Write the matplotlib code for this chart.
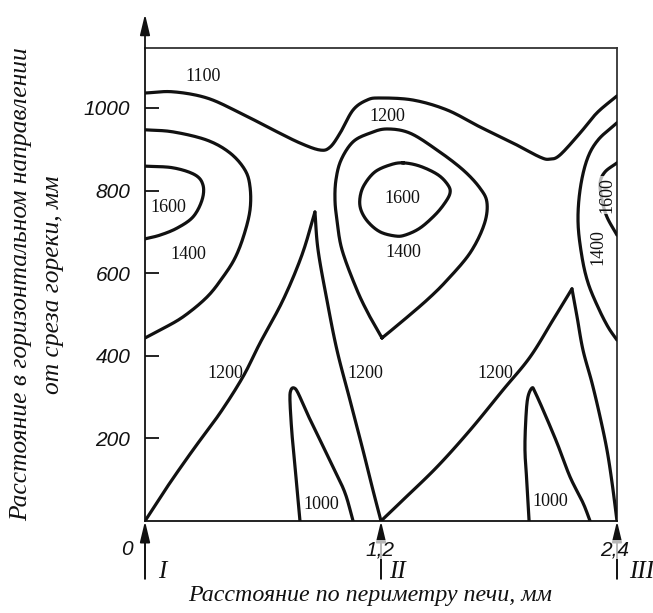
import numpy as np
import matplotlib
matplotlib.use("Agg")
import matplotlib.pyplot as plt

# ---------------- data ----------------
# x: distance along furnace perimeter (0..2.4), y: distance from burner (mm)
iso1100_x = [0.000, 0.142, 0.315, 0.483, 0.651, 0.788, 0.890, 0.941, 0.992, 1.058, 1.129, 1.195,
             1.363, 1.536, 1.703, 1.871, 2.008, 2.059, 2.110, 2.212, 2.298, 2.400]
iso1100_y = [1036, 1039, 1024, 988, 947, 915, 898, 905, 939, 995, 1019, 1024,
             1019, 995, 954, 915, 881, 876, 886, 939, 988, 1029]

left1400_x = [0.000, 0.142, 0.315, 0.432, 0.508, 0.534, 0.534, 0.503, 0.458, 0.397, 0.315, 0.193, 0.076, 0.000]
left1400_y = [947, 942, 922, 891, 850, 809, 753, 692, 637, 591, 542, 494, 462, 443]

left1600_x = [0.000, 0.142, 0.254, 0.295, 0.290, 0.244, 0.163, 0.076, 0.000]
left1600_y = [859, 855, 838, 813, 777, 736, 709, 692, 683]

spikeL_up_x = [0.000, 0.112, 0.244, 0.381, 0.498, 0.585, 0.702, 0.798, 0.864]
spikeL_up_y = [0, 82, 172, 261, 349, 431, 535, 644, 748]
spikeL_dn_x = [0.864, 0.880, 0.925, 0.976, 1.042, 1.108, 1.159, 1.200]
spikeL_dn_y = [748, 656, 535, 414, 293, 172, 75, 0]

left1000_x = [0.788, 0.778, 0.763, 0.747, 0.737, 0.742, 0.758, 0.778, 0.824, 0.890, 0.956, 1.017, 1.058]
left1000_y = [0, 51, 131, 213, 293, 317, 322, 310, 261, 196, 131, 68, 0]

mid1400_x = [1.205, 1.144, 1.078, 1.002, 0.976, 0.966, 0.971, 0.997, 1.058, 1.144, 1.230, 1.347,
             1.485, 1.617, 1.703, 1.739, 1.724, 1.653, 1.536, 1.434, 1.297, 1.205]
mid1400_y = [443, 494, 559, 656, 729, 777, 826, 874, 918, 939, 949, 939,
             898, 850, 806, 770, 717, 649, 583, 535, 479, 443]

mid1600_x = [1.312, 1.398, 1.490, 1.541, 1.551, 1.525, 1.475, 1.398, 1.322, 1.271, 1.195, 1.134,
             1.098, 1.093, 1.114, 1.169, 1.246]
mid1600_y = [867, 859, 838, 813, 794, 770, 741, 709, 692, 690, 700, 724,
             753, 782, 813, 845, 862]

spikeR_up_x = [1.200, 1.312, 1.485, 1.653, 1.820, 1.958, 2.075, 2.171]
spikeR_up_y = [0, 51, 131, 220, 317, 397, 487, 562]
spikeR_dn_x = [2.171, 2.197, 2.227, 2.273, 2.314, 2.349, 2.375, 2.400]
spikeR_dn_y = [562, 494, 414, 334, 252, 172, 92, 0]

right1000_x = [1.953, 1.942, 1.932, 1.937, 1.947, 1.968, 1.983, 2.024, 2.095, 2.161, 2.227, 2.263]
right1000_y = [0, 92, 172, 252, 300, 322, 312, 269, 189, 107, 44, 0]

right1400_x = [2.400, 2.303, 2.247, 2.212, 2.202, 2.222, 2.253, 2.303, 2.354, 2.400]
right1400_y = [964, 922, 874, 801, 721, 639, 576, 518, 470, 438]

right1600_x = [2.400, 2.339, 2.314, 2.324, 2.349, 2.400]
right1600_y = [867, 845, 818, 777, 736, 692]

# contour labels: text, x, y, rotation
label_text = ["1100", "1200", "1600", "1400", "1600", "1400", "1600", "1400",
              "1200", "1200", "1200", "1000", "1000"]
label_x = [0.295, 1.230, 0.117, 0.219, 1.307, 1.312, 2.349, 2.303, 0.407, 1.119, 1.780, 0.895, 2.059]
label_y = [1075, 980, 760, 644, 780, 651, 789, 663, 358, 358, 358, 41, 46]
label_rot = [0, 0, 0, 0, 0, 0, 90, 90, 0, 0, 0, 0, 0]

y_ticks = [200, 400, 600, 800, 1000]
x_ticks = [0.0, 1.2, 2.4]
x_tick_labels = ["0", "1,2", "2,4"]
burner_labels = ["I", "II", "III"]

XMAX, YMAX = 2.4, 1145


def catmull(xs, ys, closed=False, n=16):
    p = np.column_stack([xs, ys]).astype(float)
    sc = np.array([1.0 / XMAX, 1.0 / YMAX])
    p = p * sc
    if closed:
        pts = np.vstack([p[-1], p, p[0], p[1]])
    else:
        pts = np.vstack([2 * p[0] - p[1], p, 2 * p[-1] - p[-2]])
    out = []
    for i in range(1, len(pts) - 2):
        p0, p1, p2, p3 = pts[i - 1], pts[i], pts[i + 1], pts[i + 2]
        t = np.linspace(0, 1, n, endpoint=False)[:, None]
        seg = 0.5 * ((2 * p1) + (-p0 + p2) * t + (2 * p0 - 5 * p1 + 4 * p2 - p3) * t ** 2
                     + (-p0 + 3 * p1 - 3 * p2 + p3) * t ** 3)
        out.append(seg)
    out.append(pts[-2][None, :])
    out = np.vstack(out) / sc
    return out[:, 0], out[:, 1]


fig = plt.figure(figsize=(6.53, 6.13), dpi=100)
W, H = 653, 613
ax = fig.add_axes([145 / W, 92 / H, 472 / W, 473 / H])
ax.set_xlim(0, XMAX)
ax.set_ylim(0, YMAX)

LW = 2.3
open_curves = [(iso1100_x, iso1100_y), (left1400_x, left1400_y), (left1600_x, left1600_y),
               (spikeL_up_x, spikeL_up_y), (spikeL_dn_x, spikeL_dn_y), (left1000_x, left1000_y),
               (mid1400_x, mid1400_y), (spikeR_up_x, spikeR_up_y), (spikeR_dn_x, spikeR_dn_y),
               (right1000_x, right1000_y), (right1400_x, right1400_y), (right1600_x, right1600_y)]
for cx, cy in open_curves:
    sx, sy = catmull(cx, cy)
    ax.plot(sx, sy, color="#111111", lw=LW, solid_capstyle="round", solid_joinstyle="miter", zorder=3)
sx, sy = catmull(mid1600_x, mid1600_y, closed=True)
ax.plot(sx, sy, color="#111111", lw=LW, zorder=3)

serif = "Liberation Serif"
sans = "Liberation Sans"
for t, x, y, r in zip(label_text, label_x, label_y, label_rot):
    kw = {}
    if r:
        kw["bbox"] = dict(boxstyle="square,pad=0.05", fc="white", ec="none", alpha=0.7)
    ax.text(x, y, t, rotation=r, ha="center", va="center", fontsize=13,
            family=serif, color="#111111", zorder=4, **kw)

for s in ax.spines.values():
    s.set_linewidth(1.3)
    s.set_color("#333333")
ax.spines["left"].set_color("#111111")
ax.spines["bottom"].set_color("#111111")

ax.set_yticks(y_ticks)
ax.set_yticklabels([str(v) for v in y_ticks], fontsize=15, family=sans, style="italic")
ax.tick_params(axis="y", direction="in", length=10, width=1.3, pad=10.5, colors="#111111")
ax.set_xticks([])

# top arrow on y axis
ax.annotate("", xy=(0, 1227), xytext=(0, YMAX - 2), annotation_clip=False,
            arrowprops=dict(arrowstyle="-|>,head_length=1.25,head_width=0.3", lw=1.3,
                            color="#111111", shrinkA=0, shrinkB=0))

# burner arrows at bottom
for xv in x_ticks:
    ax.annotate("", xy=(xv, 0), xytext=(xv, -140), annotation_clip=False,
                arrowprops=dict(arrowstyle="-|>,head_length=1.25,head_width=0.3", lw=1.4,
                                color="#111111", shrinkA=0, shrinkB=0))

tick_lab_x = [-0.092, 1.195, 2.390]
for xv, t in zip(tick_lab_x, x_tick_labels):
    kw = {}
    if t != "0":
        kw["bbox"] = dict(boxstyle="square,pad=0.0", fc="white", ec="none", alpha=0.7)
    ax.text(xv, -70, t, ha="center", va="center", fontsize=15, family=sans, style="italic",
            color="#111111", clip_on=False, **kw)

roman_x = [0.086, 1.286, 2.527]
for xv, t in zip(roman_x, burner_labels):
    ax.text(xv, -123, t, ha="center", va="center", fontsize=18, family=serif, style="italic",
            color="#111111", clip_on=False)

fig.text(370 / W, 1 - 596 / H, "Расстояние по периметру печи, мм", ha="center", va="center",
         fontsize=17.3, family=serif, style="italic", color="#111111")
fig.text(21 / W, 1 - 284 / H, "Расстояние в горизонтальном направлении", rotation=90,
         ha="center", va="center", fontsize=18.4, family=serif, style="italic", color="#111111")
fig.text(53 / W, 1 - 285 / H, "от среза гореки, мм", rotation=90,
         ha="center", va="center", fontsize=18.4, family=serif, style="italic", color="#111111")

fig.savefig("out.png", dpi=100, facecolor="white")
